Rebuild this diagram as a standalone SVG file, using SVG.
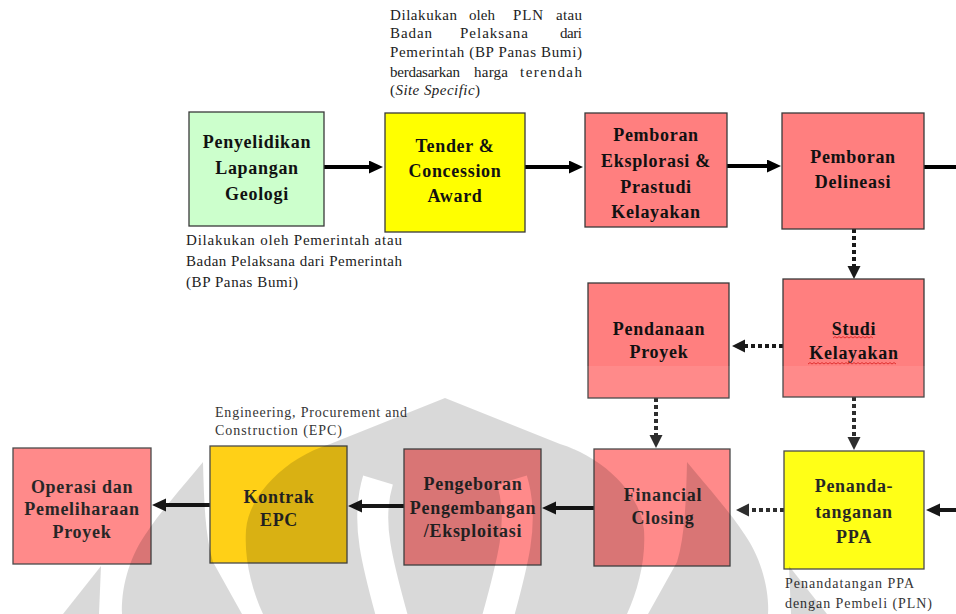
<svg xmlns="http://www.w3.org/2000/svg" width="956" height="614" viewBox="0 0 956 614">
  <defs>
    <style>
      .box{stroke:#3a3a3a;stroke-width:1.3}
      .green{fill:#ccffcc}
      .yellow{fill:#ffff00}
      .pink{fill:#ff7f7f}
      .gold{fill:#ffcc00}
      .lbl{font-family:"Liberation Serif","Times New Roman",serif;font-weight:bold;font-size:18px;letter-spacing:0.7px;fill:#111;text-anchor:middle}
      .note{font-family:"Liberation Serif","Times New Roman",serif;font-size:15px;fill:#222}
      .small{font-size:14px}
      .solid{stroke:#000;stroke-width:4;fill:none;marker-end:url(#head)}
      .plain{stroke:#000;stroke-width:4;fill:none}
      .dot{stroke:#1a1a1a;stroke-width:4;stroke-dasharray:4 3;fill:none;marker-end:url(#dhead)}
      .squiggle{stroke:#e03030;stroke-width:1;fill:none}
    </style>
    <marker id="head" markerUnits="userSpaceOnUse" viewBox="0 0 16 14" markerWidth="16" markerHeight="14" refX="4" refY="6.5" orient="auto">
      <path d="M0,0 L14,6.5 L0,13 z" fill="#000"/>
    </marker>
    <marker id="dhead" markerUnits="userSpaceOnUse" viewBox="0 0 16 14" markerWidth="16" markerHeight="14" refX="4" refY="6.5" orient="auto">
      <path d="M0,0 L13,6.5 L0,13 z" fill="#1a1a1a"/>
    </marker>
    <!-- cut-out lines of the background emblem -->
    <mask id="emblemCut" maskUnits="userSpaceOnUse" x="0" y="0" width="956" height="614">
      <rect width="956" height="614" fill="#fff"/>
      <g stroke="#000" stroke-width="31" fill="none">
        <path d="M393,620 C386,595 379,570 375,545 C371,520 372,500 378,480"/>
        <path d="M393,620 C386,595 379,570 375,545 C371,520 372,500 378,480" transform="translate(890,0) scale(-1,1)"/>
      </g>
    </mask>
  </defs>

  <rect width="956" height="614" fill="#fff"/>

  <!-- connectors -->
  <g id="connectors">
    <path class="solid" d="M324,167 H373"/>
    <path class="solid" d="M525,167 H573"/>
    <path class="solid" d="M727,166 H771"/>
    <path class="plain" d="M924,167 H956"/>
    <path class="dot" d="M854,229 V270"/>
    <path class="dot" d="M783,346 H741"/>
    <path class="dot" d="M854,397 V441"/>
    <path class="dot" d="M656,398 V439"/>
    <path class="dot" d="M784,510 H745"/>
    <path class="solid" d="M956,510 H936"/>
    <path class="solid" d="M594,508 H552"/>
    <path class="solid" d="M404,506 H358"/>
    <path class="solid" d="M210,505 H162"/>
  </g>

  <!-- process steps -->
  <g id="penyelidikan">
    <rect class="box green" x="189" y="112" width="135" height="114"/>
    <text class="lbl" x="257" y="148">Penyelidikan</text>
    <text class="lbl" x="257" y="174">Lapangan</text>
    <text class="lbl" x="257" y="200">Geologi</text>
  </g>
  <g id="tender">
    <rect class="box yellow" x="385" y="113" width="140" height="119"/>
    <text class="lbl" x="455" y="152">Tender &amp;</text>
    <text class="lbl" x="455" y="177">Concession</text>
    <text class="lbl" x="455" y="202">Award</text>
  </g>
  <g id="eksplorasi">
    <rect class="box pink" x="585" y="113" width="142" height="114"/>
    <text class="lbl" x="656" y="141">Pemboran</text>
    <text class="lbl" x="656" y="167">Eksplorasi &amp;</text>
    <text class="lbl" x="656" y="193">Prastudi</text>
    <text class="lbl" x="656" y="218">Kelayakan</text>
  </g>
  <g id="delineasi">
    <rect class="box pink" x="782" y="113" width="142" height="116"/>
    <text class="lbl" x="853" y="163">Pemboran</text>
    <text class="lbl" x="853" y="188">Delineasi</text>
  </g>
  <g id="studi">
    <rect class="box pink" x="783" y="279" width="141" height="118"/>
    <text class="lbl" x="854" y="335">Studi</text>
    <text class="lbl" x="854" y="359">Kelayakan</text>
    <path class="squiggle" d="M833,338 l2,-1.4 2,1.4 2,-1.4 2,1.4 2,-1.4 2,1.4 2,-1.4 2,1.4 2,-1.4 2,1.4 2,-1.4 2,1.4 2,-1.4 2,1.4 2,-1.4 2,1.4 2,-1.4 2,1.4 2,-1.4 2,1.4"/>
    <path class="squiggle" d="M808,364 l2,-1.4 2,1.4 2,-1.4 2,1.4 2,-1.4 2,1.4 2,-1.4 2,1.4 2,-1.4 2,1.4 2,-1.4 2,1.4 2,-1.4 2,1.4 2,-1.4 2,1.4 2,-1.4 2,1.4 2,-1.4 2,1.4 2,-1.4 2,1.4 2,-1.4 2,1.4 2,-1.4 2,1.4 2,-1.4 2,1.4 2,-1.4 2,1.4 2,-1.4 2,1.4 2,-1.4 2,1.4 2,-1.4 2,1.4 2,-1.4 2,1.4 2,-1.4 2,1.4 2,-1.4 2,1.4 2,-1.4 2,1.4"/>
  </g>
  <g id="pendanaan">
    <rect class="box pink" x="588" y="283" width="141" height="115"/>
    <text class="lbl" x="659" y="335">Pendanaan</text>
    <text class="lbl" x="659" y="358">Proyek</text>
  </g>
  <g id="ppa">
    <rect class="box yellow" x="784" y="451" width="140" height="118"/>
    <text class="lbl" x="854" y="492">Penanda-</text>
    <text class="lbl" x="854" y="518">tanganan</text>
    <text class="lbl" x="854" y="543">PPA</text>
  </g>
  <g id="financial-closing">
    <rect class="box pink" x="594" y="449" width="136" height="117"/>
    <text class="lbl" x="663" y="501">Financial</text>
    <text class="lbl" x="663" y="524">Closing</text>
  </g>
  <g id="pengeboran">
    <rect class="box pink" x="404" y="449" width="137" height="116"/>
    <text class="lbl" x="473" y="490">Pengeboran</text>
    <text class="lbl" x="473" y="514">Pengembangan</text>
    <text class="lbl" x="473" y="537">/Eksploitasi</text>
  </g>
  <g id="kontrak-epc">
    <rect class="box gold" x="210" y="446" width="137" height="117"/>
    <text class="lbl" x="279" y="503">Kontrak</text>
    <text class="lbl" x="279" y="526">EPC</text>
  </g>
  <g id="operasi">
    <rect class="box pink" x="13" y="448" width="138" height="116"/>
    <text class="lbl" x="82" y="493">Operasi dan</text>
    <text class="lbl" x="82" y="515">Pemeliharaan</text>
    <text class="lbl" x="82" y="538">Proyek</text>
  </g>

  <!-- notes -->
  <g id="note-tender" class="note">
    <text x="390" y="20" textLength="67" lengthAdjust="spacing">Dilakukan</text>
    <text x="469" y="20" textLength="26" lengthAdjust="spacing">oleh</text>
    <text x="513" y="20" textLength="30" lengthAdjust="spacing">PLN</text>
    <text x="556" y="20" textLength="26" lengthAdjust="spacing">atau</text>
    <text x="390" y="38" textLength="42" lengthAdjust="spacing">Badan</text>
    <text x="460" y="38" textLength="68" lengthAdjust="spacing">Pelaksana</text>
    <text x="560" y="38" textLength="22" lengthAdjust="spacing">dari</text>
    <text x="390" y="57" textLength="192" lengthAdjust="spacing">Pemerintah (BP Panas Bumi)</text>
    <text x="390" y="77" textLength="70" lengthAdjust="spacing">berdasarkan</text>
    <text x="474" y="77" textLength="34" lengthAdjust="spacing">harga</text>
    <text x="520" y="77" textLength="62" lengthAdjust="spacing">terendah</text>
    <text x="390" y="95" textLength="90" lengthAdjust="spacing">(<tspan font-style="italic">Site Specific</tspan>)</text>
  </g>
  <g id="note-penyelidikan" class="note">
    <text x="186" y="245" textLength="216" lengthAdjust="spacing">Dilakukan oleh Pemerintah atau</text>
    <text x="186" y="266" textLength="216" lengthAdjust="spacing">Badan Pelaksana dari Pemerintah</text>
    <text x="186" y="287" textLength="112" lengthAdjust="spacing">(BP Panas Bumi)</text>
  </g>
  <g id="note-epc" class="note small">
    <text x="215" y="417" textLength="192" lengthAdjust="spacing">Engineering, Procurement and</text>
    <text x="215" y="435" textLength="127" lengthAdjust="spacing">Construction (EPC)</text>
  </g>
  <g id="note-ppa" class="note small">
    <text x="785" y="588" textLength="129" lengthAdjust="spacing">Penandatangan PPA</text>
    <text x="785" y="608" textLength="147" lengthAdjust="spacing">dengan Pembeli (PLN)</text>
  </g>

  <!-- faint background emblem over the lower part of the page -->
  <g id="emblem">
    <rect x="0" y="366" width="956" height="248" fill="#fff" fill-opacity="0.09"/>
    <g fill="#000" fill-opacity="0.15" mask="url(#emblemCut)">
      <path d="M263,614 C252,590 244,560 246,530 C249,495 285,458 330,444 L445,398 L560,444 C605,458 641,495 644,530 C646,560 638,590 627,614 Z"/>
      <g id="wing">
        <path d="M122,614 C121,590 128,560 145,535 C160,512 180,490 203,462 C204,500 205,535 213,562 L242,614 Z"/>
        <path d="M63,614 L101,566 L99,614 Z"/>
      </g>
      <use href="#wing" transform="translate(890,0) scale(-1,1)"/>
    </g>
  </g>
</svg>
